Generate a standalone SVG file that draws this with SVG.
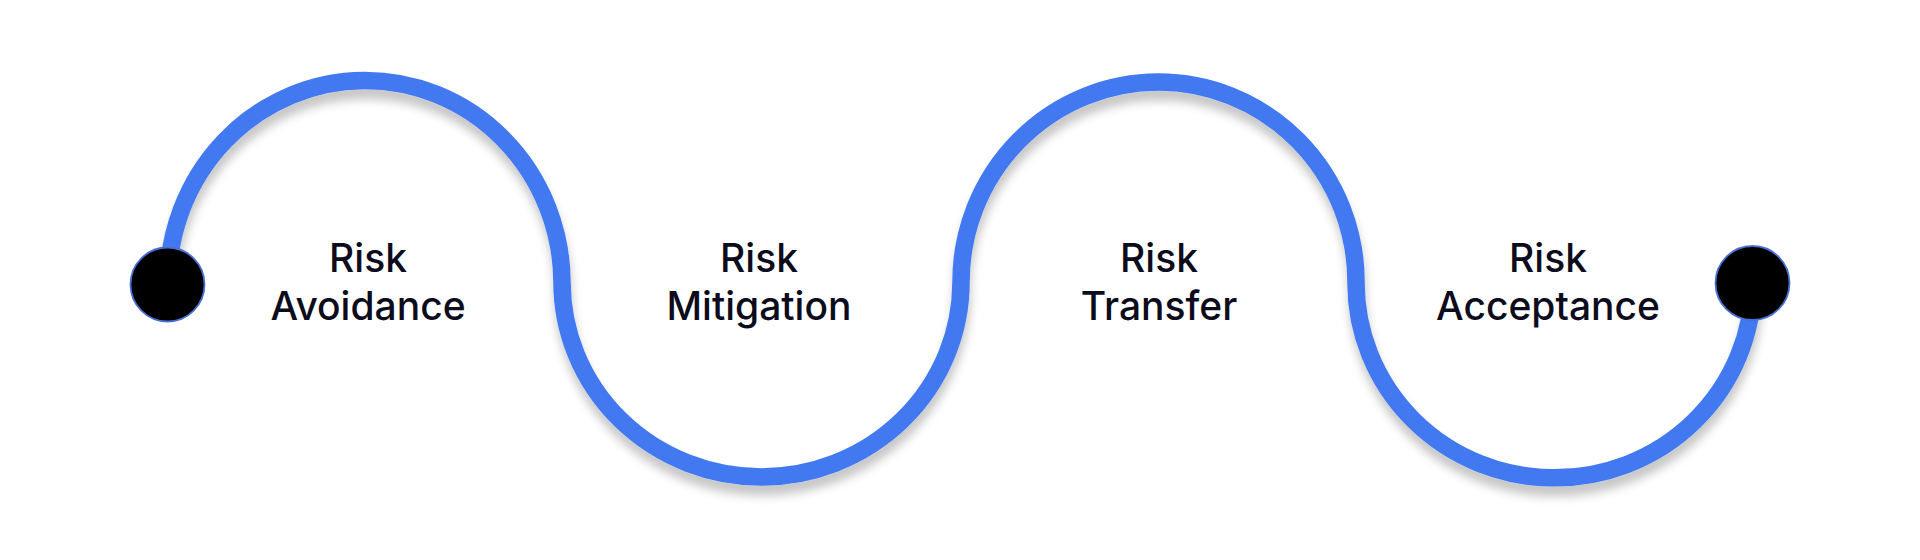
<svg xmlns="http://www.w3.org/2000/svg" width="1920" height="560" viewBox="0 0 1920 560">
  <style>
    .wave { fill: none; stroke: #4379F0; stroke-width: 17.5; stroke-linecap: round; }
    .dot { fill: #000000; stroke: #4A6FD2; stroke-width: 1.8; }
    .label { font-family: Inter, "Liberation Sans", sans-serif; font-size: 39px; font-weight: 500; fill: #0C0C1C; text-anchor: middle; }
  </style>
  <defs>
    <filter id="shadow" x="-10%" y="-20%" width="120%" height="140%">
      <feDropShadow dx="1" dy="10" stdDeviation="5" flood-color="#000000" flood-opacity="0.22"/>
    </filter>
  </defs>
  <rect width="1920" height="560" fill="#FFFFFF"/>
  <g id="connectors">
    <path class="wave" filter="url(#shadow)" d="M 168 285 A 197 203 0 0 1 562 282 A 199.5 195 0 0 0 961 282 A 197.5 200 0 0 1 1356 282 A 198.5 195 0 0 0 1753 284"/>
  </g>
  <g id="start">
    <circle class="dot" cx="167.5" cy="284.5" r="37"/>
  </g>
  <g id="end">
    <circle class="dot" cx="1752.5" cy="283" r="37"/>
  </g>
  <g id="risk-avoidance">
    <text class="label" x="368" y="272">Risk</text>
    <text class="label" x="368" y="319.5">Avoidance</text>
  </g>
  <g id="risk-mitigation">
    <text class="label" x="759" y="272">Risk</text>
    <text class="label" x="759" y="319.5">Mitigation</text>
  </g>
  <g id="risk-transfer">
    <text class="label" x="1159" y="272">Risk</text>
    <text class="label" x="1159" y="319.5">Transfer</text>
  </g>
  <g id="risk-acceptance">
    <text class="label" x="1548" y="272">Risk</text>
    <text class="label" x="1548" y="319.5">Acceptance</text>
  </g>
</svg>
